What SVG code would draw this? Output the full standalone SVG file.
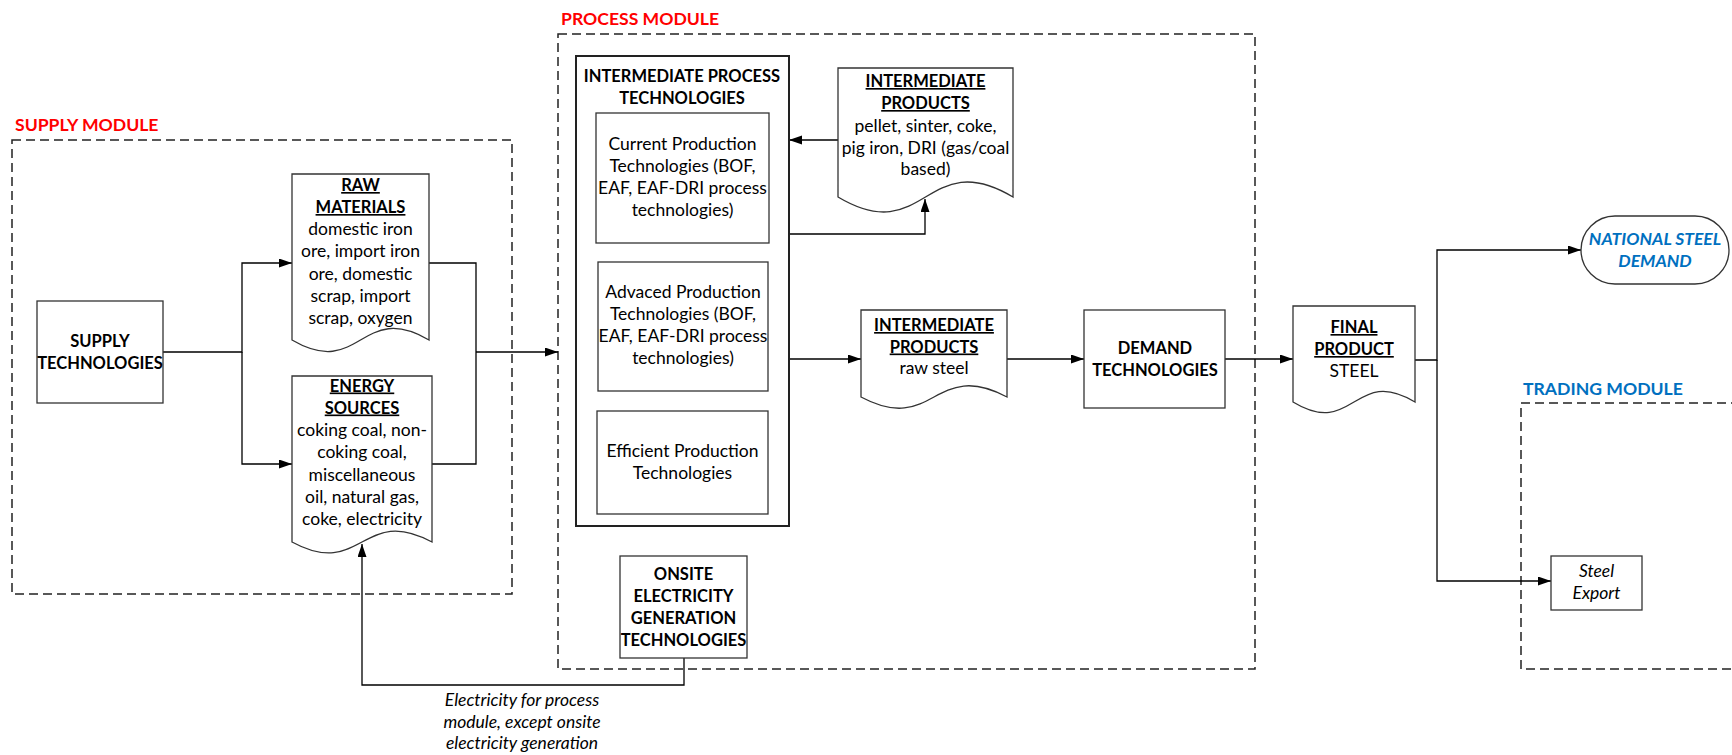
<svg xmlns="http://www.w3.org/2000/svg" width="1732" height="755" viewBox="0 0 1732 755">
<style>
  text { font-family: Lato, "Liberation Sans", sans-serif; fill: #000; }
  .t { font-size: 17.5px; text-anchor: middle; }
  .b { font-size: 16.5px; font-weight: bold; text-anchor: middle; }
  .u { text-decoration: underline; }
  .i { font-style: italic; }
  .mod { font-size: 17.6px; font-weight: bold; }
  .red { fill: #FF0000; }
  .blue { fill: #0070C0; }
  .box { fill: #fff; stroke: #333; stroke-width: 1.3; }
  .outer { fill: #fff; stroke: #222; stroke-width: 2; }
  .dash { fill: none; stroke: #222; stroke-width: 1.5; stroke-dasharray: 9 5; }
  .conn path { fill: none; stroke: #000; stroke-width: 1.3; }
</style>
<defs>
  <marker id="arr" markerUnits="userSpaceOnUse" markerWidth="14" markerHeight="10" refX="13" refY="4.5" orient="auto">
    <path d="M0,0 L13,4.5 L0,9 z" fill="#000"/>
  </marker>
</defs>
<rect width="1732" height="755" fill="#fff"/>

<!-- Modules -->
<g id="supply-module">
  <rect class="dash" x="12" y="140" width="500" height="454"/>
  <text class="mod red" x="15" y="131">SUPPLY MODULE</text>
</g>
<g id="process-module">
  <rect class="dash" x="558" y="34" width="697" height="635"/>
  <text class="mod red" x="561" y="25">PROCESS MODULE</text>
</g>
<g id="trading-module">
  <rect class="dash" x="1521" y="403" width="280" height="266"/>
  <text class="mod blue" x="1523" y="395">TRADING MODULE</text>
</g>

<!-- Connectors -->
<g id="connectors" class="conn">
  <path d="M163,352 H242 V263 H292" marker-end="url(#arr)"/>
  <path d="M242,352 V464 H292" marker-end="url(#arr)"/>
  <path d="M429,263 H476 V464 H432"/>
  <path d="M476,352 H558" marker-end="url(#arr)"/>
  <path d="M684,658 V685 H362 V544" marker-end="url(#arr)"/>
  <path d="M838,140 H789" marker-end="url(#arr)"/>
  <path d="M789,234 H925 V199" marker-end="url(#arr)"/>
  <path d="M789,359 H861" marker-end="url(#arr)"/>
  <path d="M1007,359 H1084" marker-end="url(#arr)"/>
  <path d="M1225,359 H1293" marker-end="url(#arr)"/>
  <path d="M1415,360 H1437 V250 H1581" marker-end="url(#arr)"/>
  <path d="M1437,360 V581 H1551" marker-end="url(#arr)"/>
</g>

<!-- Supply nodes -->
<g id="supply-technologies">
  <rect class="box" x="37" y="301" width="126" height="102"/>
  <text class="b" x="100" y="347">SUPPLY</text>
  <text class="b" x="100" y="369">TECHNOLOGIES</text>
</g>
<g id="raw-materials">
  <path class="box" d="M292,174 H429 V340 C360.5,300 360.5,380 292,340 Z"/>
  <text class="b u" x="360.5" y="191">RAW</text>
  <text class="b u" x="360.5" y="213">MATERIALS</text>
  <text class="t" x="360.5" y="235">domestic iron</text>
  <text class="t" x="360.5" y="257">ore, import iron</text>
  <text class="t" x="360.5" y="279.5">ore, domestic</text>
  <text class="t" x="360.5" y="301.5">scrap, import</text>
  <text class="t" x="360.5" y="323.5">scrap, oxygen</text>
</g>
<g id="energy-sources">
  <path class="box" d="M292,376 H432 V542 C362,504 362,580 292,542 Z"/>
  <text class="b u" x="362" y="391.5">ENERGY</text>
  <text class="b u" x="362" y="413.5">SOURCES</text>
  <text class="t" x="362" y="436">coking coal, non-</text>
  <text class="t" x="362" y="458">coking coal,</text>
  <text class="t" x="362" y="480.5">miscellaneous</text>
  <text class="t" x="362" y="502.5">oil, natural gas,</text>
  <text class="t" x="362" y="524.5">coke, electricity</text>
</g>

<!-- Process nodes -->
<g id="intermediate-process-technologies">
  <rect class="outer" x="576" y="56" width="213" height="470"/>
  <text class="b" x="682" y="82">INTERMEDIATE PROCESS</text>
  <text class="b" x="682" y="103.5">TECHNOLOGIES</text>
</g>
<g id="current-production">
  <rect class="box" x="596" y="113" width="173" height="130"/>
  <text class="t" x="682.5" y="150">Current Production</text>
  <text class="t" x="682.5" y="172">Technologies (BOF,</text>
  <text class="t" x="682.5" y="194">EAF, EAF-DRI process</text>
  <text class="t" x="682.5" y="216">technologies)</text>
</g>
<g id="advanced-production">
  <rect class="box" x="598" y="262" width="170" height="129"/>
  <text class="t" x="683" y="298">Advaced Production</text>
  <text class="t" x="683" y="320">Technologies (BOF,</text>
  <text class="t" x="683" y="342">EAF, EAF-DRI process</text>
  <text class="t" x="683" y="364">technologies)</text>
</g>
<g id="efficient-production">
  <rect class="box" x="597" y="411" width="171" height="103"/>
  <text class="t" x="682.5" y="457">Efficient Production</text>
  <text class="t" x="682.5" y="478.5">Technologies</text>
</g>
<g id="onsite-electricity">
  <rect class="box" x="620" y="556" width="127" height="102"/>
  <text class="b" x="683.5" y="580">ONSITE</text>
  <text class="b" x="683.5" y="602">ELECTRICITY</text>
  <text class="b" x="683.5" y="624">GENERATION</text>
  <text class="b" x="683.5" y="646">TECHNOLOGIES</text>
</g>
<g id="electricity-label">
  <text class="t i" x="522" y="706">Electricity for process</text>
  <text class="t i" x="522" y="727.5">module, except onsite</text>
  <text class="t i" x="522" y="749">electricity generation</text>
</g>
<g id="intermediate-products-1">
  <path class="box" d="M838,68 H1013 V197 C925.5,145 925.5,249 838,197 Z"/>
  <text class="b u" x="925.5" y="87">INTERMEDIATE</text>
  <text class="b u" x="925.5" y="109">PRODUCTS</text>
  <text class="t" x="925.5" y="131.5">pellet, sinter, coke,</text>
  <text class="t" x="925.5" y="153.5">pig iron, DRI (gas/coal</text>
  <text class="t" x="925.5" y="175">based)</text>
</g>
<g id="intermediate-products-2">
  <path class="box" d="M861,310 H1007 V397 C934,358 934,436 861,397 Z"/>
  <text class="b u" x="934" y="331">INTERMEDIATE</text>
  <text class="b u" x="934" y="352.5">PRODUCTS</text>
  <text class="t" x="934" y="374">raw steel</text>
</g>
<g id="demand-technologies">
  <rect class="box" x="1084" y="310" width="141" height="98"/>
  <text class="b" x="1155" y="354">DEMAND</text>
  <text class="b" x="1155" y="376">TECHNOLOGIES</text>
</g>

<!-- Output nodes -->
<g id="final-product">
  <path class="box" d="M1293,306 H1415 V402 C1354,365 1354,439 1293,402 Z"/>
  <text class="b u" x="1354" y="333">FINAL</text>
  <text class="b u" x="1354" y="355">PRODUCT</text>
  <text class="t" x="1354" y="377">STEEL</text>
</g>
<g id="national-steel-demand">
  <rect class="box" x="1581" y="216" width="148" height="68" rx="34" ry="34"/>
  <text class="b i blue" style="font-size:17.5px" x="1655" y="245">NATIONAL STEEL</text>
  <text class="b i blue" style="font-size:17.5px" x="1655" y="267">DEMAND</text>
</g>
<g id="steel-export">
  <rect class="box" x="1551" y="556" width="91" height="54"/>
  <text class="t i" x="1596.5" y="577">Steel</text>
  <text class="t i" x="1596.5" y="599">Export</text>
</g>
</svg>
